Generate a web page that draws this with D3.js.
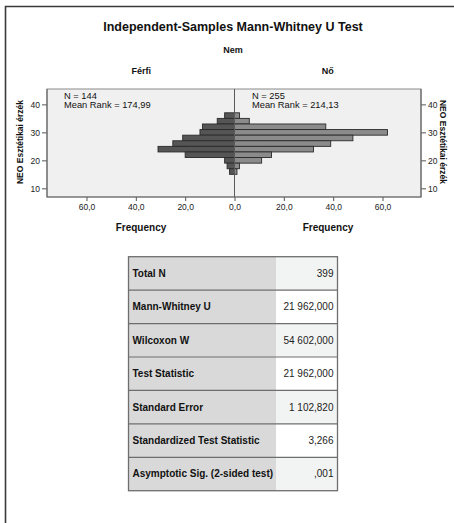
<!DOCTYPE html>
<html>
<head>
<meta charset="utf-8">
<script src="https://cdn.jsdelivr.net/npm/d3@7/dist/d3.min.js"></script>
<style>
  html, body { margin: 0; padding: 0; background: #ffffff; }
  svg { display: block; font-family: Arial, "Liberation Sans", sans-serif; }
</style>
</head>
<body>
<svg id="chart" width="454" height="523"></svg>
<script>
// Histogram bins of NEO Esztétikai érzék (lower edge, width 2), listed top to bottom
const binStart = [35, 33, 31, 29, 27, 25, 23, 21, 19, 17, 15];
const binWidth = 2;
// Frequencies per bin for each group
const ferfiCounts = [4, 7, 13, 14, 21, 25, 31, 20, 4, 3, 2];
const noCounts = [2, 6, 37, 62, 48, 39, 32, 15, 11, 2, 1];

const groups = ["Férfi", "Nő"];
const groupN = [144, 255];
const meanRanks = ["174,99", "214,13"];

const yTicks = [10, 20, 30, 40];
const xTicks = [0, 20, 40, 60];

// Summary table rows
const tableLabels = [
  "Total N", "Mann-Whitney U", "Wilcoxon W", "Test Statistic",
  "Standard Error", "Standardized Test Statistic", "Asymptotic Sig. (2-sided test)"
];
const tableValues = [
  "399", "21 962,000", "54 602,000", "21 962,000", "1 102,820", "3,266", ",001"
];

const svg = d3.select("#chart");
const locale = d3.formatLocale({ decimal: ",", thousands: " ", grouping: [3], currency: ["", ""] });
const fmt1 = locale.format(".1f");

// Outer frame
svg.append("path")
  .attr("d", "M5.5,523 V6.5 H454")
  .attr("fill", "none").attr("stroke", "#3a3a3a").attr("stroke-width", 1.6);

// Titles
svg.append("text").attr("x", 233).attr("y", 31).attr("text-anchor", "middle")
  .attr("font-size", 12.5).attr("font-weight", "bold").attr("fill", "#111")
  .text("Independent-Samples Mann-Whitney U Test");
svg.append("text").attr("x", 233).attr("y", 53).attr("text-anchor", "middle")
  .attr("font-size", 9).attr("font-weight", "bold").attr("fill", "#111")
  .text("Nem");

// Plot geometry
const plot = { left: 47, right: 421, top: 89, bottom: 197 };
const cx = 234.5;

const y = d3.scaleLinear().domain([6.9, 45.5]).range([plot.bottom, plot.top]);
const xL = d3.scaleLinear().domain([0, 76]).range([cx, plot.left]);
const xR = d3.scaleLinear().domain([0, 75.6]).range([cx, plot.right]);

// Plot background
svg.append("rect")
  .attr("x", plot.left).attr("y", plot.top)
  .attr("width", plot.right - plot.left).attr("height", plot.bottom - plot.top)
  .attr("fill", "#f0f0f0").attr("stroke", "#8a8a8a").attr("stroke-width", 1);

// Group headings
svg.append("text").attr("x", (plot.left + cx) / 2 + 0.5).attr("y", 74).attr("text-anchor", "middle")
  .attr("font-size", 9).attr("font-weight", "bold").attr("fill", "#111").text(groups[0]);
svg.append("text").attr("x", (cx + plot.right) / 2).attr("y", 74).attr("text-anchor", "middle")
  .attr("font-size", 9).attr("font-weight", "bold").attr("fill", "#111").text(groups[1]);

// Bars
const leftData = binStart.map((b, i) => ({ b, v: ferfiCounts[i] }));
const rightData = binStart.map((b, i) => ({ b, v: noCounts[i] }));

svg.append("g").selectAll("rect").data(leftData).join("rect")
  .attr("x", d => xL(d.v)).attr("y", d => y(d.b + binWidth))
  .attr("width", d => cx - xL(d.v)).attr("height", d => y(d.b) - y(d.b + binWidth))
  .attr("fill", "#555555").attr("stroke", "#2a2a2a").attr("stroke-width", 0.9);

svg.append("g").selectAll("rect").data(rightData).join("rect")
  .attr("x", cx).attr("y", d => y(d.b + binWidth))
  .attr("width", d => xR(d.v) - cx).attr("height", d => y(d.b) - y(d.b + binWidth))
  .attr("fill", "#8b8b8b").attr("stroke", "#2a2a2a").attr("stroke-width", 0.9);

// Centre divider
svg.append("line").attr("x1", cx).attr("x2", cx).attr("y1", plot.top).attr("y2", plot.bottom)
  .attr("stroke", "#5a5a5a").attr("stroke-width", 1);

// Axes
function styleAxis(g) {
  g.selectAll(".domain").remove();
  g.selectAll("line").attr("stroke", "#555");
  g.selectAll("text").attr("font-size", 8.5).attr("fill", "#222")
    .attr("font-family", "Arial, 'Liberation Sans', sans-serif");
}
svg.append("g").attr("transform", `translate(${plot.left},0)`)
  .call(d3.axisLeft(y).tickValues(yTicks).tickSize(5).tickPadding(2).tickFormat(d3.format("d")))
  .call(styleAxis);
svg.append("g").attr("transform", `translate(${plot.right},0)`)
  .call(d3.axisRight(y).tickValues(yTicks).tickSize(5).tickPadding(2).tickFormat(d3.format("d")))
  .call(styleAxis);
svg.append("g").attr("transform", `translate(0,${plot.bottom})`)
  .call(d3.axisBottom(xL).tickValues(xTicks).tickSize(4).tickPadding(3).tickFormat(fmt1))
  .call(styleAxis);
svg.append("g").attr("transform", `translate(0,${plot.bottom})`)
  .call(d3.axisBottom(xR).tickValues(xTicks.slice(1)).tickSize(4).tickPadding(3).tickFormat(fmt1))
  .call(styleAxis);

// Axis edges
svg.append("path")
  .attr("d", `M${plot.left},${plot.top} V${plot.bottom} H${plot.right} V${plot.top}`)
  .attr("fill", "none").attr("stroke", "#6a6a6a").attr("stroke-width", 1.2);

// Axis titles
svg.append("text").attr("transform", `translate(23,142) rotate(-90)`).attr("text-anchor", "middle")
  .attr("font-size", 8.5).attr("font-weight", "bold").attr("fill", "#111").text("NEO Esztétikai érzék");
svg.append("text").attr("transform", `translate(440,142) rotate(90)`).attr("text-anchor", "middle")
  .attr("font-size", 8.5).attr("font-weight", "bold").attr("fill", "#111").text("NEO Esztétikai érzék");
svg.append("text").attr("x", 141).attr("y", 231).attr("text-anchor", "middle")
  .attr("font-size", 10).attr("font-weight", "bold").attr("fill", "#111").text("Frequency");
svg.append("text").attr("x", 328).attr("y", 231).attr("text-anchor", "middle")
  .attr("font-size", 10).attr("font-weight", "bold").attr("fill", "#111").text("Frequency");

// Group statistics inside the plot
[[64, 0], [252, 1]].forEach(([tx, i]) => {
  svg.append("text").attr("x", tx).attr("y", 98.5).attr("font-size", 9.3).attr("fill", "#111")
    .text(`N = ${groupN[i]}`);
  svg.append("text").attr("x", tx).attr("y", 107.5).attr("font-size", 9.3).attr("fill", "#111")
    .text(`Mean Rank = ${meanRanks[i]}`);
});

// Summary table
const tbl = { left: 128.5, right: 337.5, top: 256.7, split: 276, rowH: 33.43 };
const rows = svg.append("g").selectAll("g").data(tableLabels).join("g")
  .attr("transform", (d, i) => `translate(0,${tbl.top + i * tbl.rowH})`);
rows.append("rect").attr("x", tbl.left).attr("y", 0)
  .attr("width", tbl.split - tbl.left).attr("height", tbl.rowH).attr("fill", "#d9d9d9");
rows.append("rect").attr("x", tbl.split).attr("y", 0)
  .attr("width", tbl.right - tbl.split).attr("height", tbl.rowH)
  .attr("fill", (d, i) => i % 2 === 0 ? "#f2f4f3" : "#ffffff");
rows.append("text").attr("x", tbl.left + 4).attr("y", tbl.rowH / 2 + 3.5)
  .attr("font-size", 10).attr("font-weight", "bold").attr("fill", "#111").text(d => d);
rows.append("text").attr("x", tbl.right - 4).attr("y", tbl.rowH / 2 + 3.5).attr("text-anchor", "end")
  .attr("font-size", 10).attr("fill", "#222").text((d, i) => tableValues[i]);
rows.filter((d, i) => i > 0).append("line")
  .attr("x1", tbl.left).attr("x2", tbl.right).attr("y1", 0).attr("y2", 0)
  .attr("stroke", "#6e6e6e").attr("stroke-width", 1.2);
svg.append("rect").attr("x", tbl.left).attr("y", tbl.top)
  .attr("width", tbl.right - tbl.left).attr("height", tbl.rowH * tableLabels.length)
  .attr("fill", "none").attr("stroke", "#6e6e6e").attr("stroke-width", 1.3);
</script>
</body>
</html>
